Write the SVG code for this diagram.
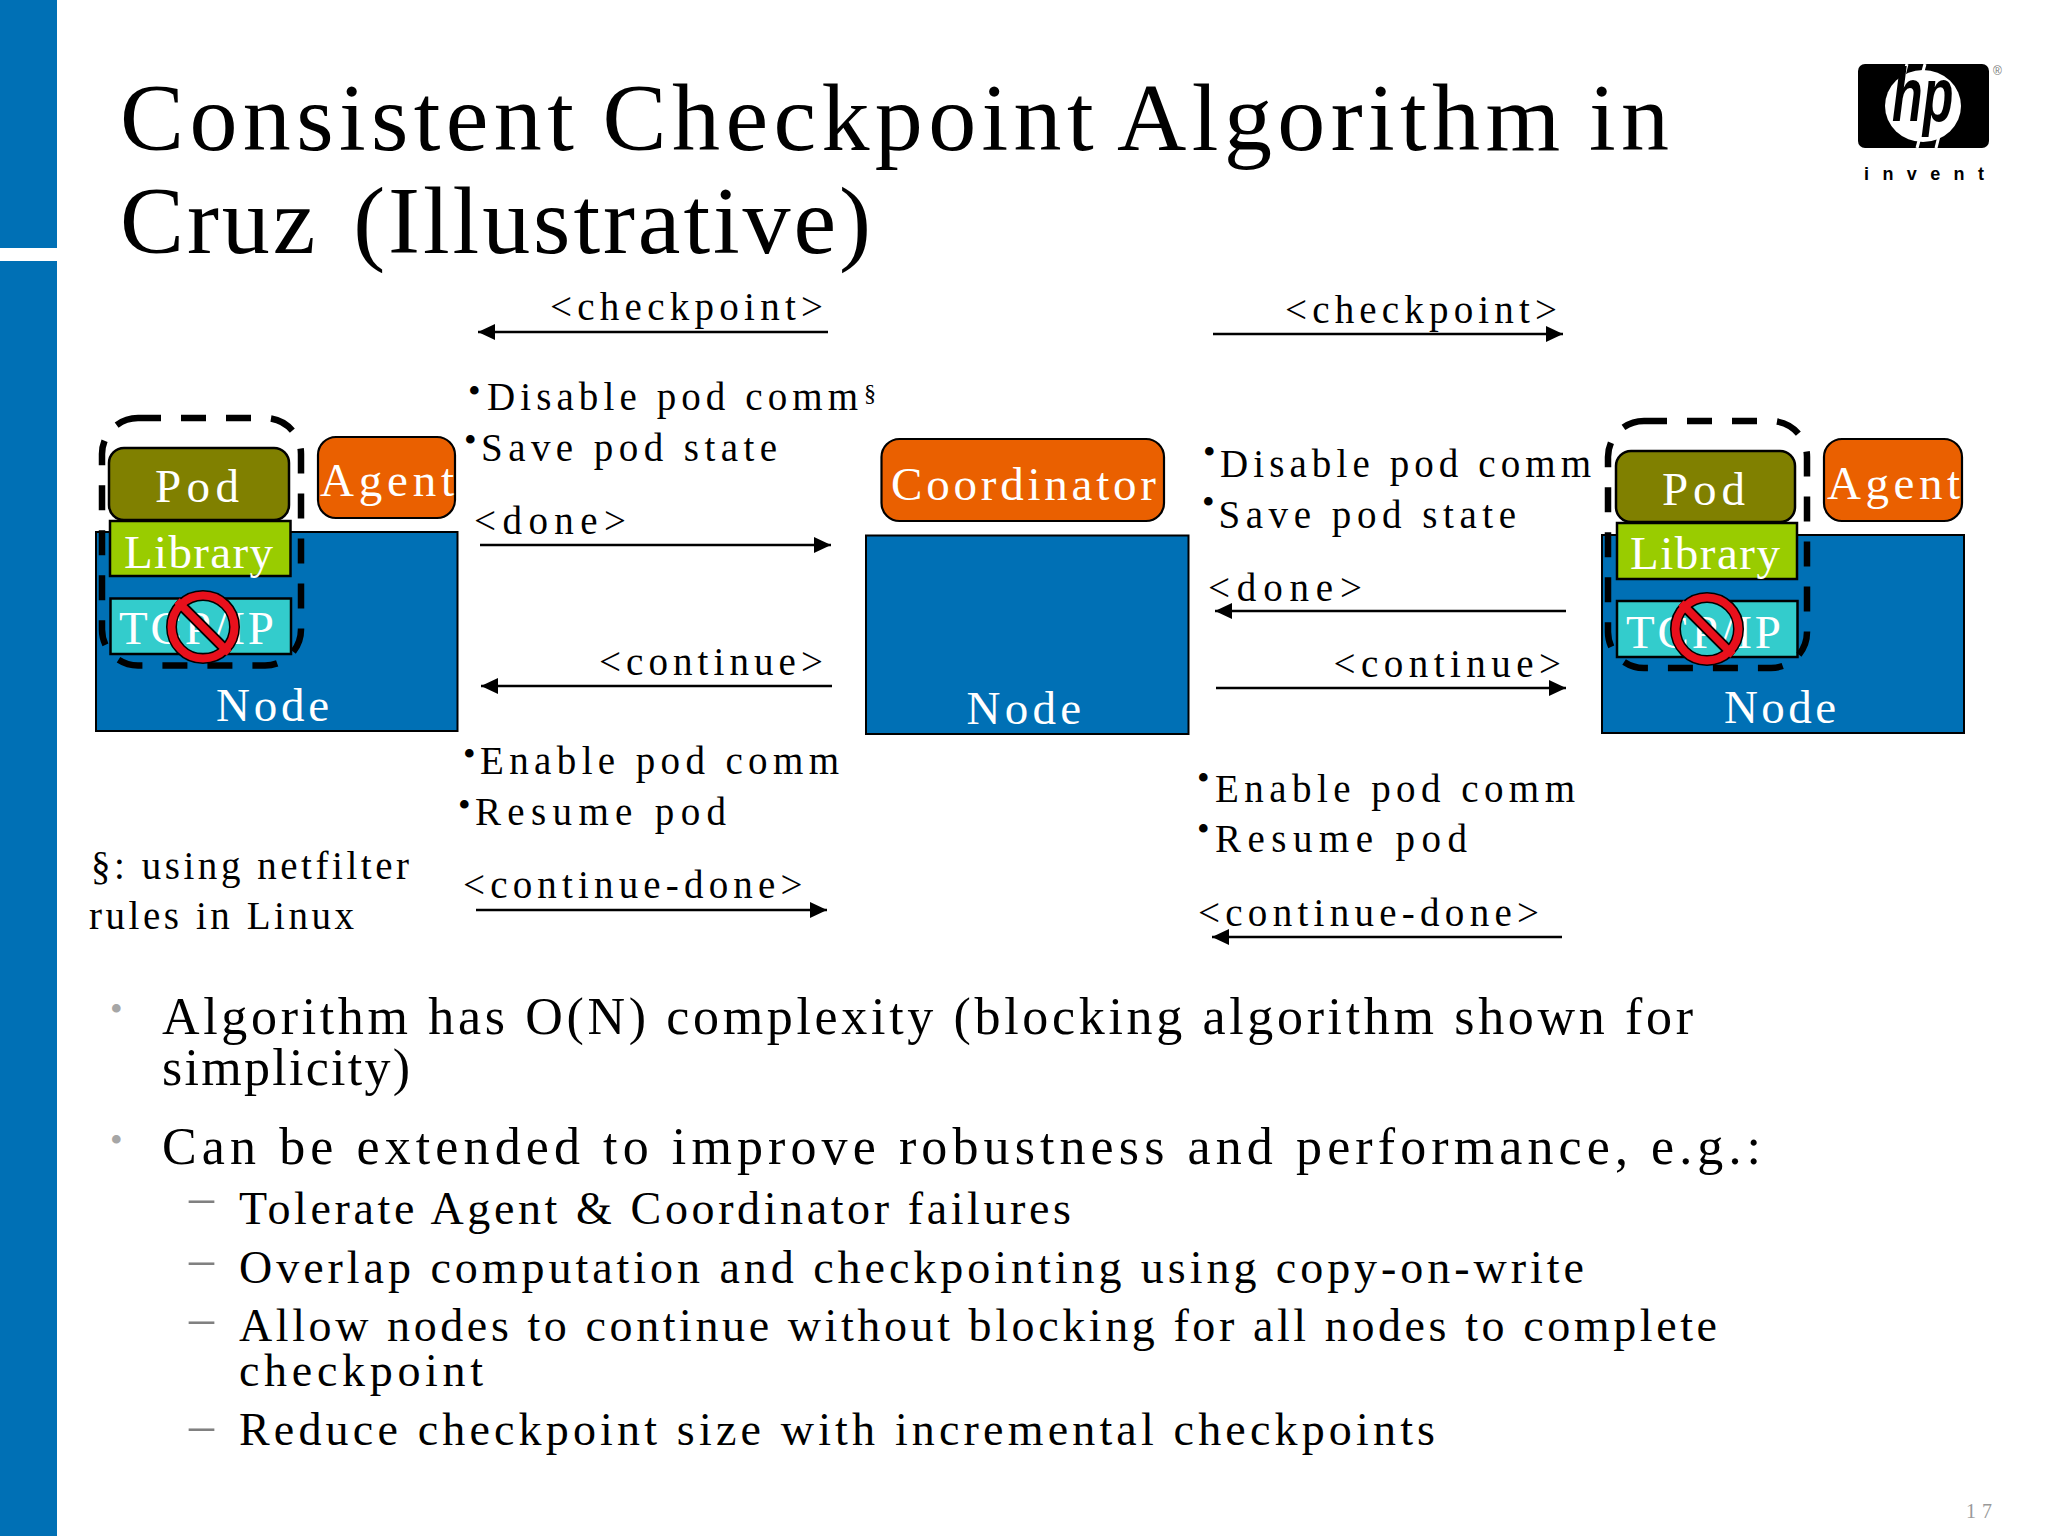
<svg xmlns="http://www.w3.org/2000/svg" width="2048" height="1536" viewBox="0 0 2048 1536">
<style>
text{font-family:"Liberation Serif","Times New Roman",serif;fill:#000}
.title{font-size:96px}
.lbl{font-size:47px;fill:#fff}
.msg{font-size:39px}
.bul{font-size:36px}
.b1{font-size:52px}
.b2{font-size:46px}
.gb{font-size:36px;fill:#a6a6a6}
.gd{font-size:50px;fill:#808080}
.sans{font-family:"Liberation Sans",Arial,sans-serif}
.node{fill:#0070b5;stroke:#000;stroke-width:2}
.coord{fill:#ea6000;stroke:#000;stroke-width:2.2}
.pod{fill:#808000;stroke:#000;stroke-width:2.5}
.lib{fill:#99cc00;stroke:#000;stroke-width:2.5}
.tcp{fill:#33cccc;stroke:#000;stroke-width:2.5}
.dash{fill:none;stroke:#000;stroke-width:6.5;stroke-dasharray:25 20;stroke-dashoffset:2}
.arrow{fill:none;stroke:#000;stroke-width:2.5;marker-end:url(#ah)}
</style>
<defs>
<marker id="ah" markerUnits="userSpaceOnUse" markerWidth="18" markerHeight="16" refX="17" refY="8" orient="auto"><path d="M0 0L17 8L0 16Z" fill="#000"/></marker>
<g id="no">
<circle r="31.500" fill="none" stroke="#000" stroke-width="11"/>
<path d="M-24 -24L24 24" stroke="#000" stroke-width="11"/>
<circle r="31.500" fill="none" stroke="#e8101c" stroke-width="8"/>
<path d="M-26 -26L26 26" stroke="#e8101c" stroke-width="7.5"/>
</g>
</defs>
<rect width="2048" height="1536" fill="#fff"/>
<g id="sidebar"><rect x="0" y="0" width="57" height="248" fill="#0070b5"/><rect x="0" y="261" width="57" height="1275" fill="#0070b5"/></g>
<g id="title">
<text class="title" x="120" y="150" textLength="1549" style="word-spacing:-6px">Consistent Checkpoint Algorithm in</text>
<text class="title" x="120" y="253" textLength="751" style="word-spacing:8px">Cruz (Illustrative)</text>
</g>
<g id="logo">
<rect x="1858" y="64" width="131" height="84" rx="7" fill="#000"/>
<ellipse cx="1923" cy="106" rx="38" ry="36" fill="#fff"/>
<path d="M1907 64L1895 110M1925 64L1915 100M1917 148L1929 104M1936 148L1945 112" stroke="#fff" stroke-width="3" fill="none"/>
<text class="sans" transform="translate(1892 121) scale(.66 1)" style="font-style:italic;font-weight:700;font-size:76px">hp</text>
<text class="sans" x="1864" y="180" textLength="120" style="font-weight:700;font-size:18px">invent</text>
<text class="sans" x="1993" y="75" style="font-size:12px;fill:#777">®</text>
</g>
<g id="node-left">
<rect class="node" x="96" y="532" width="361.500" height="199"/>
<text class="lbl" x="216" y="721" textLength="113">Node</text>
</g>
<g id="agent-left">
<rect class="coord" x="318" y="437" width="137" height="81" rx="18"/>
<text class="lbl" x="320" y="496" textLength="134">Agent</text>
</g>
<g id="pod-left">
<rect class="pod" x="109" y="448" width="180" height="72" rx="15"/>
<text class="lbl" x="155" y="502" textLength="84">Pod</text>
</g>
<g id="library-left">
<rect class="lib" x="110" y="521" width="180.500" height="55"/>
<text class="lbl" x="124" y="568" textLength="149">Library</text>
</g>
<g id="tcp-left">
<rect class="tcp" x="110.500" y="598.500" width="180.500" height="55.500"/>
<text class="lbl" x="119" y="644" textLength="155">TCP/IP</text>
<use href="#no" x="203" y="627"/>
</g>
<rect id="boundary-left" class="dash" x="102" y="418" width="199" height="247.500" rx="36"/>
<g id="coordinator">
<rect class="coord" x="881.500" y="439" width="282.500" height="82" rx="18"/>
<text class="lbl" x="891" y="500" textLength="265">Coordinator</text>
</g>
<g id="node-center">
<rect class="node" x="866" y="535.500" width="322.500" height="198.500"/>
<text class="lbl" x="966.500" y="724" textLength="114.500">Node</text>
</g>
<g id="node-right">
<rect class="node" x="1602" y="535" width="362" height="198"/>
<text class="lbl" x="1724" y="723" textLength="112">Node</text>
</g>
<g id="agent-right">
<rect class="coord" x="1824" y="439" width="138" height="82" rx="18"/>
<text class="lbl" x="1827" y="499" textLength="133">Agent</text>
</g>
<g id="pod-right">
<rect class="pod" x="1616" y="451" width="179" height="71" rx="15"/>
<text class="lbl" x="1662" y="505" textLength="83">Pod</text>
</g>
<g id="library-right">
<rect class="lib" x="1617" y="523" width="180" height="56"/>
<text class="lbl" x="1630" y="569" textLength="150">Library</text>
</g>
<g id="tcp-right">
<rect class="tcp" x="1617" y="601" width="180.500" height="56"/>
<text class="lbl" x="1626" y="648" textLength="155">TCP/IP</text>
<use href="#no" x="1707" y="629"/>
</g>
<rect id="boundary-right" class="dash" x="1608" y="421" width="199" height="247" rx="36"/>
<g id="connectors">
<path class="arrow" d="M828 332H478"/>
<path class="arrow" d="M1213 334H1563"/>
<path class="arrow" d="M480 545H831"/>
<path class="arrow" d="M832 686H481"/>
<path class="arrow" d="M476 910H827"/>
<path class="arrow" d="M1566 611H1215"/>
<path class="arrow" d="M1216 688H1566"/>
<path class="arrow" d="M1562 937H1212"/>
</g>
<g id="messages">
<text class="msg" x="550" y="320" textLength="273">&lt;checkpoint&gt;</text>
<text class="msg" x="1285" y="323" textLength="272">&lt;checkpoint&gt;</text>
<text class="bul" x="468" y="402.500">•</text>
<text class="msg" x="487" y="410" textLength="371">Disable pod comm</text>
<text x="864" y="401" font-size="24">§</text>
<text class="bul" x="464" y="451.500">•</text>
<text class="msg" x="481" y="461" textLength="296">Save pod state</text>
<text class="msg" x="474" y="534" textLength="152">&lt;done&gt;</text>
<text class="msg" x="599" y="675" textLength="224">&lt;continue&gt;</text>
<text class="bul" x="463" y="765.500">•</text>
<text class="msg" x="480" y="774" textLength="359">Enable pod comm</text>
<text class="bul" x="458" y="816.500">•</text>
<text class="msg" x="475" y="825" textLength="251">Resume pod</text>
<text class="msg" x="463" y="898" textLength="339.500">&lt;continue-done&gt;</text>
<text class="msg" x="91" y="879" textLength="318">§: using netfilter</text>
<text class="msg" x="89" y="929" textLength="265">rules in Linux</text>
<text class="bul" x="1203" y="463.500">•</text>
<text class="msg" x="1220" y="477" textLength="371">Disable pod comm</text>
<text class="bul" x="1202" y="513.500">•</text>
<text class="msg" x="1218.500" y="528" textLength="297.500">Save pod state</text>
<text class="msg" x="1208" y="601" textLength="154">&lt;done&gt;</text>
<text class="msg" x="1333.500" y="677" textLength="227.500">&lt;continue&gt;</text>
<text class="bul" x="1197" y="789.500">•</text>
<text class="msg" x="1215" y="802" textLength="360">Enable pod comm</text>
<text class="bul" x="1197" y="840.500">•</text>
<text class="msg" x="1215" y="852" textLength="252">Resume pod</text>
<text class="msg" x="1198" y="926" textLength="341">&lt;continue-done&gt;</text>
</g>
<g id="bullets">
<text class="gb" x="110" y="1021">•</text>
<text class="b1" x="162" y="1034" textLength="1531">Algorithm has O(N) complexity (blocking algorithm shown for</text>
<text class="b1" x="162" y="1085" textLength="248">simplicity)</text>
<text class="gb" x="110" y="1152">•</text>
<text class="b1" x="162" y="1164" textLength="1599">Can be extended to improve robustness and performance, e.g.:</text>
<text class="gd" x="189" y="1213.500">–</text>
<text class="b2" x="239" y="1224" textLength="832">Tolerate Agent &amp; Coordinator failures</text>
<text class="gd" x="189" y="1275.500">–</text>
<text class="b2" x="239" y="1283" textLength="1345">Overlap computation and checkpointing using copy-on-write</text>
<text class="gd" x="189" y="1334.500">–</text>
<text class="b2" x="239" y="1341" textLength="1478">Allow nodes to continue without blocking for all nodes to complete</text>
<text class="b2" x="239" y="1386" textLength="244">checkpoint</text>
<text class="gd" x="189" y="1441.500">–</text>
<text class="b2" x="239" y="1445" textLength="1196">Reduce checkpoint size with incremental checkpoints</text>
</g>
<text id="page" x="1966" y="1518" textLength="26" style="font-size:20px;fill:#999">17</text>
</svg>
